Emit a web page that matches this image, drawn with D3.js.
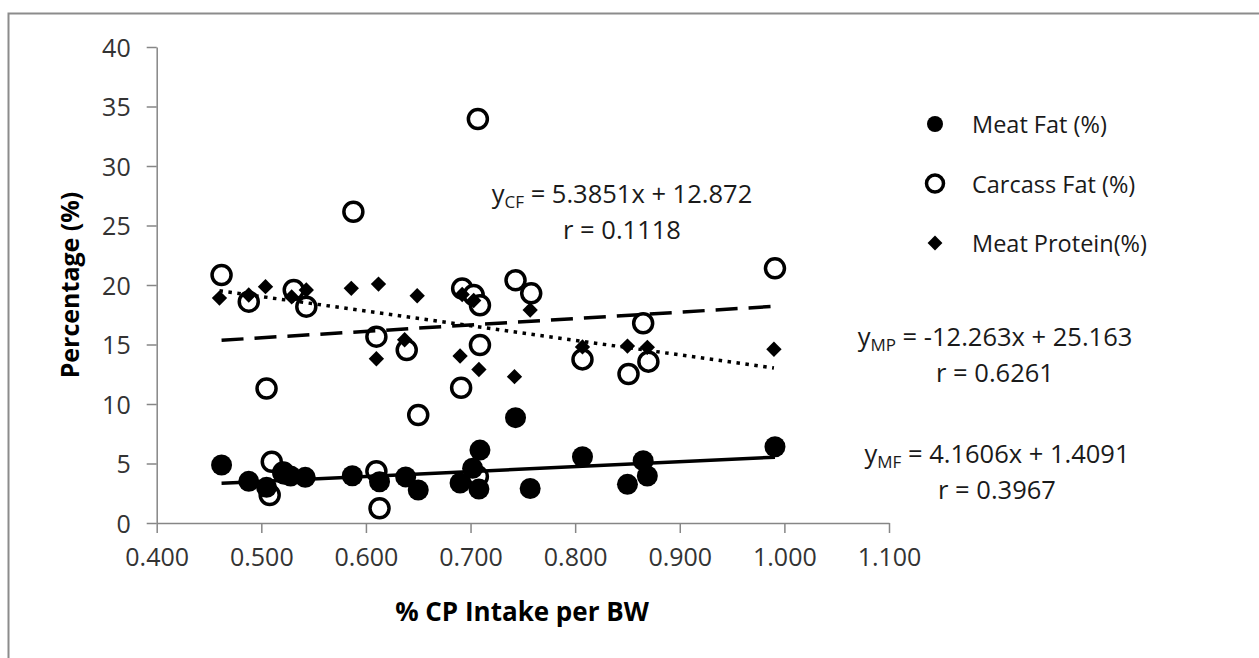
<!DOCTYPE html>
<html>
<head>
<meta charset="utf-8">
<script src="https://cdn.jsdelivr.net/npm/d3@7/dist/d3.min.js"></script>
<style>
  body { margin: 0; background: #fff; }
  svg { display: block; font-family: "Open Sans", sans-serif; }
</style>
</head>
<body>
<svg id="chart" width="1259" height="658"></svg>
<script>
// ---- data ----
var meatFatX = [0.462, 0.488, 0.505, 0.522, 0.528, 0.542, 0.587, 0.613, 0.638, 0.650, 0.690, 0.702, 0.709, 0.708, 0.743, 0.757, 0.807, 0.850, 0.865, 0.869, 0.991];
var meatFatY = [4.87, 3.50, 3.00, 4.10, 3.95, 3.84, 3.97, 3.47, 3.87, 2.77, 3.36, 4.60, 6.13, 2.85, 8.85, 2.90, 5.57, 3.25, 5.24, 3.95, 6.41];

var carcassX = [0.462, 0.488, 0.505, 0.510, 0.508, 0.521, 0.531, 0.543, 0.588, 0.610, 0.610, 0.613, 0.639, 0.650, 0.692, 0.691, 0.703, 0.709, 0.707, 0.709, 0.707, 0.743, 0.758, 0.807, 0.851, 0.865, 0.870, 0.991];
var carcassY = [20.84, 18.60, 11.30, 5.15, 2.35, 4.25, 19.58, 18.18, 26.16, 15.66, 4.35, 1.24, 14.54, 9.07, 19.70, 11.37, 19.16, 18.30, 33.95, 14.96, 3.90, 20.40, 19.30, 13.75, 12.52, 16.78, 13.56, 21.40];

var proteinX = [0.460, 0.488, 0.504, 0.529, 0.543, 0.586, 0.612, 0.649, 0.610, 0.637, 0.690, 0.692, 0.703, 0.708, 0.742, 0.757, 0.807, 0.850, 0.869, 0.990];
var proteinY = [18.90, 19.16, 19.86, 19.00, 19.58, 19.72, 20.08, 19.10, 13.80, 15.40, 14.03, 19.20, 18.70, 12.90, 12.30, 17.90, 14.80, 14.87, 14.76, 14.60];

// trendlines (from the printed equations)
var trendNames = ["MF", "CF", "MP"];
var trendSlope = [4.1606, 5.3851, -12.263];
var trendIntercept = [1.4091, 12.872, 25.163];
var trendStart = [0.462, 0.462, 0.460];
var trendEnd = [0.991, 0.991, 0.990];
var trendR = ["0.3967", "0.1118", "0.6261"];

var xTicks = [0.4, 0.5, 0.6, 0.7, 0.8, 0.9, 1.0, 1.1];
var yTicks = [0, 5, 10, 15, 20, 25, 30, 35, 40];

var legendNames = ["Meat Fat (%)", "Carcass Fat (%)", "Meat Protein(%)"];

// ---- drawing ----
var svg = d3.select("#chart");

// outer frame (only left and top edges show in the picture)
svg.append("rect")
   .attr("x", 8.5).attr("y", 13.5)
   .attr("width", 1400).attr("height", 800)
   .attr("fill", "none")
   .attr("stroke", "#8c8c8c")
   .attr("stroke-width", 2);

var x = d3.scaleLinear().domain([0.4, 1.1]).range([156.7, 889]);
var y = d3.scaleLinear().domain([0, 40]).range([523, 47]);

var yAxis = svg.append("g")
   .attr("transform", "translate(156.7,0)")
   .call(d3.axisLeft(y).tickValues(yTicks).tickSize(10).tickSizeOuter(0).tickPadding(16));

var xAxis = svg.append("g")
   .attr("transform", "translate(0,523)")
   .call(d3.axisBottom(x).tickValues(xTicks).tickSize(10).tickSizeOuter(0)
         .tickPadding(16).tickFormat(d3.format(".3f")));

[xAxis, yAxis].forEach(function(ax) {
   ax.select(".domain").attr("stroke", "#868686").attr("stroke-width", 1.5);
   ax.selectAll(".tick line").attr("stroke", "#868686").attr("stroke-width", 1.5);
   ax.selectAll(".tick text")
      .attr("fill", "#333")
      .style("font-size", "25px")
      .style("font-family", "'Open Sans', sans-serif");
});
yAxis.selectAll(".tick text").attr("dy", "0.36em");
xAxis.selectAll(".tick text").attr("dy", "0.68em");

// axis titles
svg.append("text")
   .attr("transform", "translate(79,285) rotate(-90)")
   .attr("text-anchor", "middle")
   .style("font-size", "25px").style("font-weight", "bold")
   .text("Percentage (%)");

svg.append("text")
   .attr("x", 522).attr("y", 621)
   .attr("text-anchor", "middle")
   .style("font-size", "26px").style("font-weight", "bold")
   .text("% CP Intake per BW");

var plot = svg.append("g");

// carcass fat: open circles
plot.selectAll("circle.cf")
   .data(d3.zip(carcassX, carcassY))
   .enter().append("circle")
   .attr("class", "cf")
   .attr("cx", function(d) { return x(d[0]); })
   .attr("cy", function(d) { return y(d[1]); })
   .attr("r", 9.5)
   .attr("fill", "#fff")
   .attr("stroke", "#000")
   .attr("stroke-width", 3.5);

// meat fat: filled circles
plot.selectAll("circle.mf")
   .data(d3.zip(meatFatX, meatFatY))
   .enter().append("circle")
   .attr("class", "mf")
   .attr("cx", function(d) { return x(d[0]); })
   .attr("cy", function(d) { return y(d[1]); })
   .attr("r", 10.5)
   .attr("fill", "#000");

// meat protein: diamonds
var diamond = d3.symbol().type(d3.symbolDiamond2).size(150);
plot.selectAll("path.mp")
   .data(d3.zip(proteinX, proteinY))
   .enter().append("path")
   .attr("class", "mp")
   .attr("d", diamond)
   .attr("transform", function(d) { return "translate(" + x(d[0]) + "," + y(d[1]) + ")"; })
   .attr("fill", "#000");

// trendlines
var dashes = [null, "22,11", "3.5,5.5"];
trendNames.forEach(function(n, i) {
   var pts = [trendStart[i], trendEnd[i]].map(function(v) {
      return [x(v), y(trendSlope[i] * v + trendIntercept[i])];
   });
   plot.append("path")
      .attr("d", d3.line()(pts))
      .attr("fill", "none")
      .attr("stroke", "#000")
      .attr("stroke-width", 3.5)
      .attr("stroke-dasharray", dashes[i]);
});

// equation labels
var eqPos = [[997, 463], [622, 203], [995, 346]];
function fmtEq(i) {
   var b = trendSlope[i];
   return " = " + (b < 0 ? "-" + (-b) : b) + "x + " + trendIntercept[i];
}
trendNames.forEach(function(n, i) {
   var t = svg.append("text")
      .attr("x", eqPos[i][0]).attr("y", eqPos[i][1])
      .attr("text-anchor", "middle")
      .attr("fill", "#1a1a1a")
      .style("font-size", "25.5px");
   t.append("tspan").text("y");
   t.append("tspan").attr("dy", 5).style("font-size", "17px").text(n);
   t.append("tspan").attr("dy", -5).text(fmtEq(i));
   svg.append("text")
      .attr("x", eqPos[i][0]).attr("y", eqPos[i][1] + 36)
      .attr("text-anchor", "middle")
      .attr("fill", "#1a1a1a")
      .style("font-size", "25.5px")
      .text("r = " + trendR[i]);
});

// legend
var legend = svg.append("g").attr("transform", "translate(935,124)");
legendNames.forEach(function(name, i) {
   var g = legend.append("g").attr("transform", "translate(0," + (i * 59.5) + ")");
   if (i == 0) {
      g.append("circle").attr("r", 8).attr("fill", "#000");
   } else if (i == 1) {
      g.append("circle").attr("r", 8.5).attr("fill", "#fff")
         .attr("stroke", "#000").attr("stroke-width", 3.5);
   } else {
      g.append("path").attr("d", d3.symbol().type(d3.symbolDiamond2).size(140)).attr("fill", "#000");
   }
   g.append("text")
      .attr("x", 37).attr("y", 9)
      .attr("fill", "#1a1a1a")
      .style("font-size", "23.5px")
      .text(name);
});
</script>
</body>
</html>
